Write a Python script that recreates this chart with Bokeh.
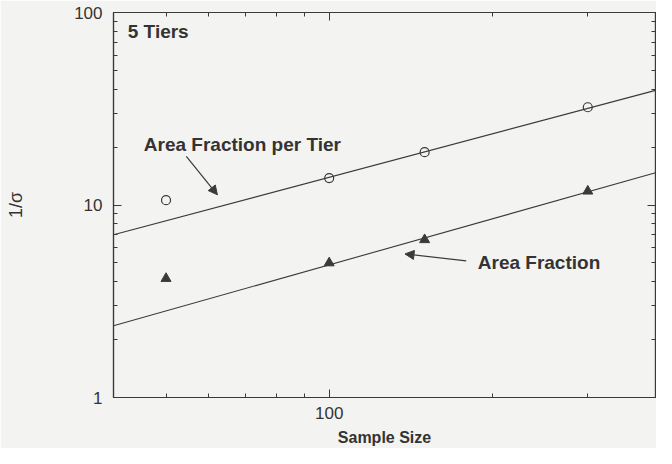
from bokeh.plotting import figure
from bokeh.models import LogAxis, FixedTicker, Label, Arrow, NormalHead, Range1d, CustomJSTickFormatter
from bokeh.embed import file_html
from bokeh.resources import INLINE

# ---- data ----
sample_size = [50, 100, 150, 300]
per_tier = [10.6, 13.8, 18.8, 32.2]          # Area Fraction per Tier (open circles)
area_fraction = [4.15, 5.0, 6.6, 11.8]       # Area Fraction (filled triangles)
fit_x = [40, 400]
per_tier_fit = [7.0, 39.4]
area_fraction_fit = [2.36, 14.7]

x_major = [100]
x_minor = [40, 50, 60, 70, 80, 90, 200, 300, 400]
y_major = [1, 10, 100]
y_minor = [2, 3, 4, 5, 6, 7, 8, 9, 20, 30, 40, 50, 60, 70, 80, 90]
x_tick_labels = {100: "100"}
y_tick_labels = {1: "1", 10: "10", 100: "100"}

INK = "#3a3a3a"
TXT = "#333333"
BG = "#f3f3f1"
FONT = "Liberation Sans"

p = figure(x_axis_type="log", y_axis_type="log",
           x_range=Range1d(40, 400), y_range=Range1d(1, 100),
           frame_width=542, frame_height=385,
           min_border_left=113, min_border_top=12, min_border_right=1, min_border_bottom=51,
           output_backend="svg", toolbar_location=None,
           background_fill_color=BG, border_fill_color=BG)
p.xgrid.visible = False
p.ygrid.visible = False
p.outline_line_color = INK
p.outline_line_width = 1.2

def style_axis(ax, ticks, minor, labels):
    ax.ticker = FixedTicker(ticks=ticks, minor_ticks=minor)
    ax.axis_line_color = INK
    ax.axis_line_width = 1.2
    ax.major_tick_line_color = INK
    ax.minor_tick_line_color = INK
    ax.major_tick_in = 8
    ax.major_tick_out = 0
    ax.minor_tick_in = 4
    ax.minor_tick_out = 0
    ax.major_label_text_font = FONT
    ax.major_label_text_font_size = "17px"
    ax.major_label_text_color = TXT
    if labels is None:
        ax.formatter = CustomJSTickFormatter(code="return '';")
        ax.major_label_standoff = 0
    else:
        ax.major_label_overrides = labels

style_axis(p.xaxis[0], x_major, x_minor, x_tick_labels)
style_axis(p.yaxis[0], y_major, y_minor, y_tick_labels)
p.xaxis[0].major_label_standoff = 9
p.yaxis[0].major_label_standoff = 11

p.xaxis.axis_label = "Sample Size"
p.xaxis.axis_label_text_font = FONT
p.xaxis.axis_label_text_font_size = "16px"
p.xaxis.axis_label_text_font_style = "bold"
p.xaxis.axis_label_text_color = TXT
p.xaxis.axis_label_standoff = 7

p.yaxis.axis_label = "1/σ"
p.yaxis.axis_label_text_font = FONT
p.yaxis.axis_label_text_font_size = "18px"
p.yaxis.axis_label_text_font_style = "normal"
p.yaxis.axis_label_text_color = TXT
p.yaxis.axis_label_standoff = 45

top = LogAxis()
style_axis(top, x_major, x_minor, None)
p.add_layout(top, "above")
right = LogAxis()
style_axis(right, y_major, y_minor, None)
p.add_layout(right, "right")

# fit lines
p.line(fit_x, per_tier_fit, line_color=INK, line_width=1.1)
p.line(fit_x, area_fraction_fit, line_color=INK, line_width=1.1)

# data points
p.scatter(sample_size, per_tier, marker="circle", size=9,
          fill_color=None, line_color=INK, line_width=1.2)
p.scatter(sample_size, area_fraction, marker="triangle", size=10,
          fill_color=INK, line_color=INK)

# annotations
def lab(x, y, text):
    p.add_layout(Label(x=x, y=y, text=text, text_font=FONT, text_font_size="19px",
                       text_font_style="bold", text_color=TXT, text_baseline="middle"))

lab(42.5, 79.7, "5 Tiers")
lab(45.5, 20.5, "Area Fraction per Tier")
lab(188, 5.0, "Area Fraction")

p.add_layout(Arrow(end=NormalHead(size=9, fill_color=INK, line_color=INK),
                   x_start=54.5, y_start=17.9, x_end=62.2, y_end=11.3,
                   line_color=INK, line_width=1.2))
p.add_layout(Arrow(end=NormalHead(size=9, fill_color=INK, line_color=INK),
                   x_start=179, y_start=5.13, x_end=138, y_end=5.57,
                   line_color=INK, line_width=1.2))

open("out.html", "w").write(file_html(p, INLINE))
